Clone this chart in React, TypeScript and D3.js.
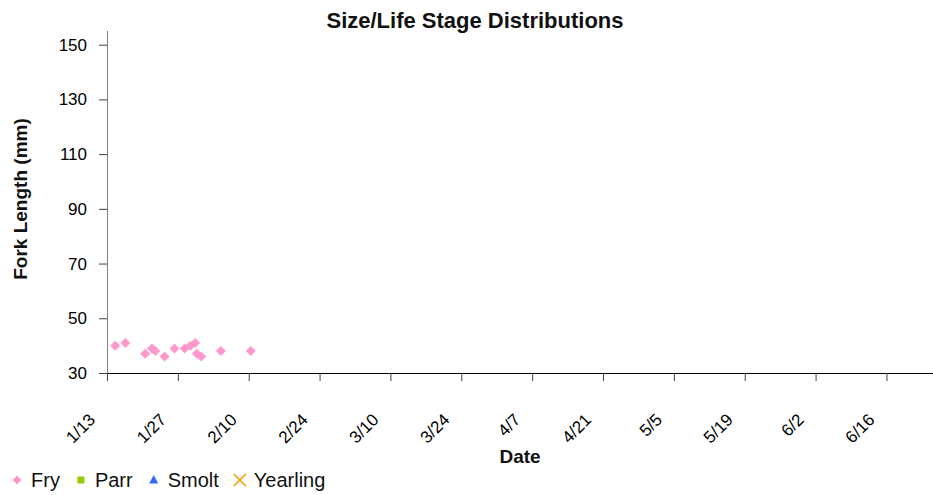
import { useEffect, useRef } from 'react'
import * as d3 from 'd3'

// Fry samples (date, fork length mm)
const FRY_DATES = [
  '2014-01-14T15:00', '2014-01-16T15:00', '2014-01-20T13:00', '2014-01-21T21:00',
  '2014-01-22T13:00', '2014-01-24T09:00', '2014-01-26T08:00', '2014-01-28T08:00',
  '2014-01-29T11:00', '2014-01-30T10:00', '2014-01-30T18:00', '2014-01-31T15:00',
  '2014-02-04T12:00', '2014-02-10T10:00',
]
const FRY_LENGTHS = [40, 41, 37, 39, 38, 36, 39, 39, 40, 41, 37, 36, 38, 38]

const X_TICKS = ['1/13', '1/27', '2/10', '2/24', '3/10', '3/24', '4/7', '4/21', '5/5', '5/19', '6/2', '6/16']
const Y_TICKS = [30, 50, 70, 90, 110, 130, 150]
const X_DOMAIN = ['2014-01-13', '2014-06-25']
const Y_DOMAIN = [30, 155]

const LEGEND = [
  { name: 'Fry', shape: 'diamond', color: '#FF99CC' },
  { name: 'Parr', shape: 'square', color: '#99CC00' },
  { name: 'Smolt', shape: 'triangle', color: '#3366FF' },
  { name: 'Yearling', shape: 'x', color: '#FF9900' },
]

const FONT = '"Liberation Sans", Arial, sans-serif'

const parseMD = (s: string) => {
  const [m, d] = s.split('/').map(Number)
  return new Date(2014, m - 1, d)
}

export default function App() {
  const svgRef = useRef<SVGSVGElement>(null)

  useEffect(() => {
    if (!svgRef.current) return
    const width = 933
    const height = 495
    const margin = { top: 31, right: 1, bottom: 122, left: 107 }

    const svg = d3.select(svgRef.current)
    svg.selectAll('*').remove()
    svg.attr('width', width).attr('height', height)

    const x = d3.scaleTime()
      .domain(X_DOMAIN.map((s) => d3.timeParse('%Y-%m-%d')(s) as Date))
      .range([margin.left, width - margin.right])
    const y = d3.scaleLinear()
      .domain(Y_DOMAIN)
      .range([height - margin.bottom, margin.top])

    const y0 = y(30)

    // Title
    svg.append('text')
      .attr('x', 475).attr('y', 28)
      .attr('text-anchor', 'middle')
      .style('font-family', FONT).style('font-size', '22px').style('font-weight', 'bold')
      .attr('fill', '#111')
      .text('Size/Life Stage Distributions')

    // Y axis
    const yAx = svg.append('g')
      .attr('transform', `translate(${margin.left},0)`)
      .call(d3.axisLeft(y).tickValues(Y_TICKS).tickSize(8).tickPadding(12).tickFormat(d3.format('d')))
    yAx.select('.domain').attr('stroke', '#808080').attr('d', `M0.5,${margin.top}V${y0}`)
    yAx.selectAll('line').attr('stroke', '#404040')
    yAx.selectAll('text').attr('fill', '#000').style('font-family', FONT).style('font-size', '17px')

    // X axis
    const tickDates = X_TICKS.map(parseMD)
    const xAx = svg.append('g')
      .attr('transform', `translate(0,${y0})`)
      .call(d3.axisBottom(x).tickValues(tickDates).tickSize(8).tickFormat((_, i) => X_TICKS[i]))
    xAx.select('.domain').attr('stroke', '#000').attr('d', `M${margin.left},0.5H${width}`)
    xAx.selectAll('line').attr('stroke', '#404040')
    xAx.selectAll('text')
      .attr('fill', '#000')
      .style('font-family', FONT).style('font-size', '17px')
      .attr('text-anchor', 'end')
      .attr('dy', 0)
      .attr('transform', 'translate(-19,40) rotate(-45)')

    // Axis titles
    svg.append('text')
      .attr('transform', `translate(27,199) rotate(-90)`)
      .attr('text-anchor', 'middle')
      .style('font-family', FONT).style('font-size', '19px').style('font-weight', 'bold')
      .attr('fill', '#111')
      .text('Fork Length (mm)')
    svg.append('text')
      .attr('x', (margin.left + width) / 2).attr('y', 463)
      .attr('text-anchor', 'middle')
      .style('font-family', FONT).style('font-size', '19px').style('font-weight', 'bold')
      .attr('fill', '#111')
      .text('Date')

    // Fry points
    const diamond = (s: number) => `M0,${-s}L${s},0L0,${s}L${-s},0Z`
    svg.append('g').selectAll('path')
      .data(FRY_DATES.map((d, i) => ({ date: new Date(d), len: FRY_LENGTHS[i] })))
      .join('path')
      .attr('transform', (d) => `translate(${x(d.date)},${y(d.len)})`)
      .attr('d', diamond(5))
      .attr('fill', '#FF99CC')

    // Legend
    const lg = svg.append('g').attr('transform', 'translate(0,480)')
    let cursor = 17
    LEGEND.forEach((item) => {
      const m = lg.append('g').attr('transform', `translate(${cursor},0)`)
      if (item.shape === 'diamond') m.append('path').attr('d', diamond(4.5)).attr('fill', item.color)
      if (item.shape === 'square') m.append('rect').attr('x', -3.5).attr('y', -3.5).attr('width', 7).attr('height', 7).attr('fill', item.color)
      if (item.shape === 'triangle') m.append('path').attr('d', 'M0,-5L4.5,3.5L-4.5,3.5Z').attr('fill', item.color)
      if (item.shape === 'x') {
        m.append('path').attr('d', 'M-6,-6L6,6M6,-6L-6,6').attr('stroke', item.color).attr('stroke-width', 1.6).attr('fill', 'none')
      }
      const t = lg.append('text')
        .attr('x', cursor + 14).attr('y', 7)
        .style('font-family', FONT).style('font-size', '20px')
        .attr('fill', '#111')
        .text(item.name)
      const w = (t.node() as SVGTextElement).getComputedTextLength()
      cursor += 14 + w + 21
    })
  }, [])

  return (
    <svg ref={svgRef} style={{ position: 'absolute', left: 0, top: 0, background: '#fff' }} />
  )
}
